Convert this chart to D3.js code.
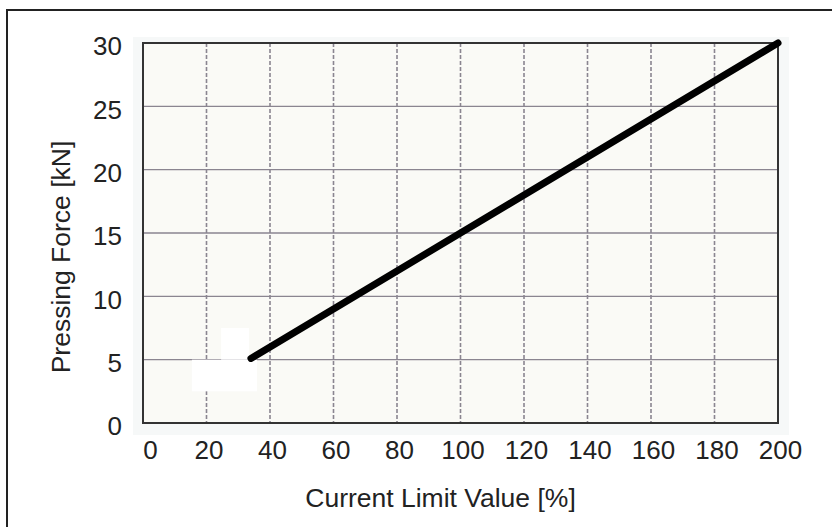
<!DOCTYPE html>
<html>
<head>
<meta charset="utf-8">
<script src="https://cdn.jsdelivr.net/npm/d3@7"></script>
<style>
  body { margin: 0; background: #fff; }
  text { font-family: "Liberation Sans", Arial, sans-serif; fill: #222; }
</style>
</head>
<body>
<div id="chart"></div>
<script>
// Data
var currentLimit = [34, 200];     // %
var pressingForce = [5.1, 30];    // kN
var xTicks = [0, 20, 40, 60, 80, 100, 120, 140, 160, 180, 200];
var yTicks = [0, 5, 10, 15, 20, 25, 30];
// white patches over the low end of the curve (data units: x0, x1, y0, y1)
var patches = [[15.4, 35.9, 2.5, 5.0], [24.6, 33.4, 5.0, 7.5]];

// Setup
var W = 832, H = 527;
var margin = { top: 43, right: 54, bottom: 104, left: 143 },
    width = W - margin.left - margin.right,
    height = H - margin.top - margin.bottom;

var x = d3.scaleLinear().domain([0, 200]).range([0, width]);
var y = d3.scaleLinear().domain([0, 30]).range([height, 0]);

var root = d3.select("#chart").append("svg")
    .attr("width", W)
    .attr("height", H);

// outer frame (only top and left edges are in view)
root.append("path")
    .attr("d", "M7,527V10H832")
    .attr("fill", "none")
    .attr("stroke", "#222")
    .attr("stroke-width", 2);

var svg = root.append("g")
    .attr("transform", `translate(${margin.left}, ${margin.top})`);

// faint backdrop around plot
svg.append("rect")
    .attr("x", -10).attr("y", -6)
    .attr("width", width + 21).attr("height", height + 18)
    .attr("fill", "#f6f8f8");

svg.append("rect")
    .attr("width", width).attr("height", height)
    .attr("fill", "#fafaf6");

// grid
svg.append("g")
    .selectAll("line")
    .data(xTicks.slice(1, -1))
    .join("line")
    .attr("x1", d => x(d)).attr("x2", d => x(d))
    .attr("y1", 0).attr("y2", height)
    .attr("stroke", "#8a8590")
    .attr("stroke-width", 1.6)
    .attr("stroke-dasharray", "4,2");

svg.append("g")
    .selectAll("line")
    .data(yTicks.slice(1, -1))
    .join("line")
    .attr("x1", 0).attr("x2", width)
    .attr("y1", d => y(d)).attr("y2", d => y(d))
    .attr("stroke", "#8a8590")
    .attr("stroke-width", 1.4);

// patches
svg.append("g")
    .selectAll("rect")
    .data(patches)
    .join("rect")
    .attr("x", d => x(d[0]))
    .attr("width", d => x(d[1]) - x(d[0]))
    .attr("y", d => y(d[3]))
    .attr("height", d => y(d[2]) - y(d[3]))
    .attr("fill", "#fff");

// frame
svg.append("rect")
    .attr("width", width).attr("height", height)
    .attr("fill", "none")
    .attr("stroke", "#333")
    .attr("stroke-width", 2);

// line
var pts = currentLimit.map((c, i) => [c, pressingForce[i]]);
svg.append("path")
    .attr("d", d3.line().x(d => x(d[0])).y(d => y(d[1]))(pts))
    .attr("fill", "none")
    .attr("stroke", "#000")
    .attr("stroke-width", 7)
    .attr("stroke-linecap", "round");

// axes
var xAxis = d3.axisBottom(x).tickValues(xTicks).tickSize(0).tickPadding(18);
var gx = svg.append("g")
    .attr("transform", `translate(0, ${height})`)
    .call(xAxis);
gx.select(".domain").remove();
gx.selectAll("text").attr("font-size", 26).attr("fill", "#222")
    .attr("font-family", "Liberation Sans, Arial, sans-serif")
    .attr("dx", d => d === 0 ? 7 : 2);

var yAxis = d3.axisLeft(y).tickValues(yTicks).tickSize(0).tickPadding(21);
var gy = svg.append("g").call(yAxis);
gy.select(".domain").remove();
gy.selectAll("text").attr("font-size", 26).attr("fill", "#222")
    .attr("font-family", "Liberation Sans, Arial, sans-serif")
    .attr("dy", "0.45em");

// titles
svg.append("text")
    .attr("x", x(100) - 20)
    .attr("y", height + 84)
    .attr("text-anchor", "middle")
    .attr("font-size", 26.5)
    .text("Current Limit Value [%]");

svg.append("text")
    .attr("transform", `translate(${70 - margin.left}, ${height / 2 + 24}) rotate(-90)`)
    .attr("text-anchor", "middle")
    .attr("font-size", 26.5)
    .text("Pressing Force [kN]");
</script>
</body>
</html>
